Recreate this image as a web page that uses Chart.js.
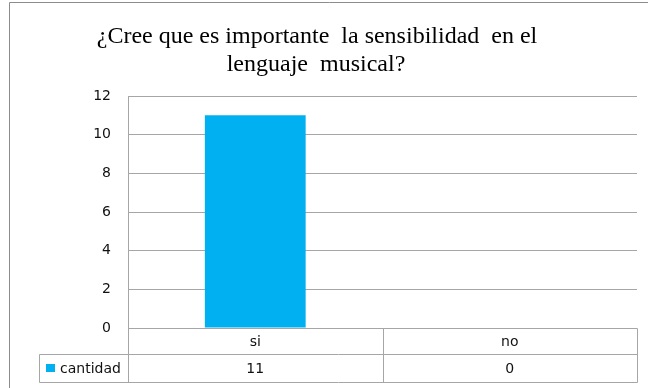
<!DOCTYPE html>
<html>
<head>
<meta charset="utf-8">
<script src="https://cdn.jsdelivr.net/npm/chart.js@4"></script>
<style>
html,body{margin:0;padding:0;background:#fff;}
#wrap{width:648px;height:388px;position:relative;}
</style>
</head>
<body>
<div id="wrap"><canvas id="c" width="648" height="388"></canvas></div>
<script>
const titleLines = ["¿Cree que es importante  la sensibilidad  en el", "lenguaje  musical?"];
const categories = ["si", "no"];
const seriesName = "cantidad";
const cantidad = [11, 0];
const yTicks = [0, 2, 4, 6, 8, 10, 12];

const BLUE = "#00B0F0";
const GRID = "#A6A6A6";
const TICKFONT = "DejaVu Sans, Verdana, sans-serif";

const framePlugin = {
  id: "frame",
  beforeDraw(chart) {
    const ctx = chart.ctx;
    ctx.save();
    ctx.strokeStyle = "#8C8C8C";
    ctx.lineWidth = 1;
    ctx.beginPath();
    ctx.moveTo(9.5, 400);
    ctx.lineTo(9.5, 2.5);
    ctx.lineTo(660, 2.5);
    ctx.stroke();
    // title
    ctx.fillStyle = "#000";
    ctx.font = "24px 'Liberation Serif', 'Times New Roman', serif";
    ctx.textAlign = "center";
    ctx.textBaseline = "alphabetic";
    ctx.fillText(titleLines[0], 317, 43);
    ctx.fillText(titleLines[1], 316, 71);
    ctx.restore();
  }
};

const tablePlugin = {
  id: "dataTable",
  afterDraw(chart) {
    const ctx = chart.ctx;
    const a = chart.chartArea;
    const xs = chart.scales.x;
    const L = Math.round(a.left) + 0.5, R = Math.round(a.right) + 0.5;
    const top = Math.round(a.bottom) + 0.5;
    const mid = top + 26;
    const bot = mid + 28;
    const legL = 39.5;
    const centers = categories.map((c, i) => xs.getPixelForValue(i));
    const dividers = [];
    for (let i = 0; i < centers.length - 1; i++) dividers.push(Math.round((centers[i] + centers[i + 1]) / 2) + 0.5);
    ctx.save();
    ctx.strokeStyle = GRID;
    ctx.lineWidth = 1;
    ctx.beginPath();
    ctx.moveTo(L, top); ctx.lineTo(R, top);
    ctx.moveTo(legL, mid); ctx.lineTo(R, mid);
    ctx.moveTo(legL, bot); ctx.lineTo(R, bot);
    ctx.moveTo(L, top); ctx.lineTo(L, bot);
    ctx.moveTo(R, top); ctx.lineTo(R, bot);
    ctx.moveTo(legL, mid); ctx.lineTo(legL, bot);
    dividers.forEach(d => { ctx.moveTo(d, top); ctx.lineTo(d, bot); });
    ctx.stroke();
    ctx.fillStyle = "#111";
    ctx.font = "14px " + TICKFONT;
    ctx.textAlign = "center";
    ctx.textBaseline = "middle";
    categories.forEach((c, i) => ctx.fillText(c, centers[i], (top + mid) / 2 + 1));
    cantidad.forEach((v, i) => ctx.fillText(String(v), centers[i], (mid + bot) / 2 + 1));
    ctx.fillStyle = BLUE;
    ctx.fillRect(46, 364, 9, 8);
    ctx.fillStyle = "#111";
    ctx.textAlign = "left";
    ctx.fillText(seriesName, 60, (mid + bot) / 2 + 1);
    ctx.restore();
  }
};

new Chart(document.getElementById("c"), {
  type: "bar",
  data: {
    labels: categories,
    datasets: [{
      label: seriesName,
      data: cantidad,
      backgroundColor: BLUE,
      borderWidth: 0,
      categoryPercentage: 1.0,
      barPercentage: 0.396
    }]
  },
  options: {
    responsive: false,
    animation: false,
    devicePixelRatio: 1,
    layout: { padding: { left: 0, right: 11, top: 96, bottom: 60 } },
    plugins: {
      legend: { display: false },
      title: { display: false },
      tooltip: { enabled: false }
    },
    scales: {
      x: { display: false, offset: true },
      y: {
        min: 0, max: 12,
        afterFit(scale) { scale.width = 128; },
        afterBuildTicks(scale) { scale.ticks = yTicks.map(v => ({ value: v })); },
        ticks: {
          padding: 17,
          color: "#111",
          font: { family: TICKFONT, size: 14 }
        },
        grid: { color: GRID, drawTicks: false, lineWidth: 1 },
        border: { color: GRID, width: 1 }
      }
    }
  },
  plugins: [framePlugin, tablePlugin]
});
</script>
</body>
</html>
